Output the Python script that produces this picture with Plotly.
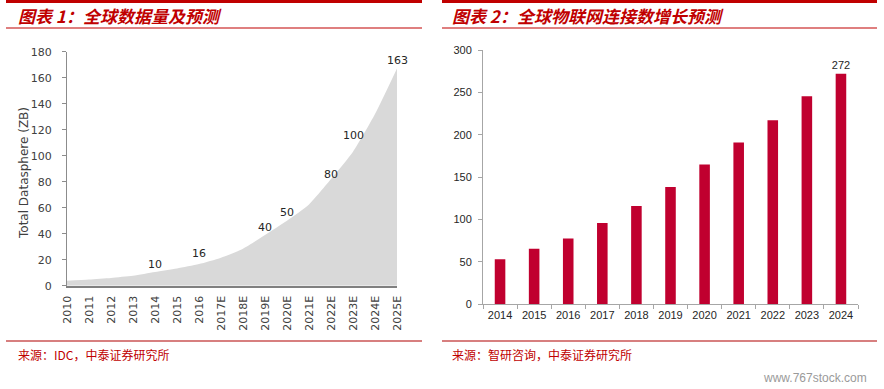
import plotly.graph_objects as go

W, H = 884, 389

# ---- Data: chart 1 (global datasphere, ZB) ----
years1 = ["2010", "2011", "2012", "2013", "2014", "2015", "2016", "2017E", "2018E",
          "2019E", "2020E", "2021E", "2022E", "2023E", "2024E", "2025E"]
datasphere = [3.8, 4.8, 6.0, 7.6, 10.5, 13.2, 16.6, 21.5, 28.5, 39.0, 50.0, 62.5, 82.0, 103.0, 132.0, 167.0]
label_years = ["2014", "2016", "2019E", "2020E", "2022E", "2023E", "2025E"]
label_values = [10, 16, 40, 50, 80, 100, 163]

# ---- Data: chart 2 (global IoT connections) ----
years2 = ["2014", "2015", "2016", "2017", "2018", "2019", "2020", "2021", "2022", "2023", "2024"]
iot = [53, 65.5, 77.5, 96, 116, 138.5, 165, 191, 217, 245.5, 272]

# ---- styles ----
label_yshift = [8, 11, 6, 8, 7.5, 20.5, 13]
RED = "#C00000"
BAR = "#C0002F"
TXT = "#404040"

def px_x(p):
    return p / W

def px_y(p):
    return 1 - p / H

fig = go.Figure()

# Chart 1 area
xi = list(range(len(years1)))
fig.add_trace(go.Scatter(
    x=xi, y=datasphere, mode="lines", fill="tozeroy",
    line=dict(width=0, shape="spline", smoothing=0.6, color="#D9D9D9"),
    fillcolor="#D9D9D9", xaxis="x", yaxis="y", hoverinfo="skip", showlegend=False,
))

# Chart 2 bars
fig.add_trace(go.Bar(
    x=years2, y=iot, marker=dict(color=BAR, line=dict(width=0)), width=0.31,
    text=[""] * (len(iot) - 1) + [f"{iot[-1]:g}"], textposition="outside",
    constraintext="none",
    textfont=dict(family="Liberation Sans, Arial", size=11, color="#262626"),
    cliponaxis=False, xaxis="x2", yaxis="y2", showlegend=False,
))

ann = []
for yr, v, sh in zip(label_years, label_values, label_yshift):
    ann.append(dict(
        x=years1.index(yr), y=v, xref="x", yref="y", text=str(v), showarrow=False,
        yanchor="middle", xanchor="center", yshift=sh,
        font=dict(family="DejaVu Sans, Verdana", size=11, color="#262626"),
    ))

# Y-axis title chart 1
ann.append(dict(
    x=px_x(24), y=px_y(173), xref="paper", yref="paper", text="Total Datasphere (ZB)",
    textangle=-90, showarrow=False, xanchor="center", yanchor="middle",
    font=dict(family="DejaVu Sans, Verdana", size=12, color=TXT),
))

# Titles
title_font = dict(family="Noto Sans CJK SC", size=17, color=RED, weight="bold", style="italic")
ann.append(dict(x=px_x(16), y=px_y(16), xref="paper", yref="paper", text="图表 1：全球数据量及预测",
                showarrow=False, xanchor="left", yanchor="middle", font=title_font))
ann.append(dict(x=px_x(450), y=px_y(16), xref="paper", yref="paper", text="图表 2：全球物联网连接数增长预测",
                showarrow=False, xanchor="left", yanchor="middle", font=title_font))

# Sources
src_font = dict(family="Noto Sans CJK SC", size=12, color=RED)
ann.append(dict(x=px_x(16), y=px_y(354), xref="paper", yref="paper", text="来源：IDC，中泰证券研究所",
                showarrow=False, xanchor="left", yanchor="middle", font=src_font))
ann.append(dict(x=px_x(450), y=px_y(354), xref="paper", yref="paper", text="来源：智研咨询，中泰证券研究所",
                showarrow=False, xanchor="left", yanchor="middle", font=src_font))

# Watermark
ann.append(dict(x=px_x(869), y=px_y(378), xref="paper", yref="paper", text="www.767stock.com",
                showarrow=False, xanchor="right", yanchor="middle",
                font=dict(family="Liberation Sans, Arial", size=12, color="#9A9A9A")))

shapes = []
for x0, x1 in [(6, 422), (442, 877)]:
    shapes.append(dict(type="rect", xref="paper", yref="paper", x0=px_x(x0), x1=px_x(x1),
                       y0=px_y(3), y1=px_y(0), fillcolor=RED, line=dict(width=0)))
    shapes.append(dict(type="line", xref="paper", yref="paper", x0=px_x(x0), x1=px_x(x1),
                       y0=px_y(28), y1=px_y(28), line=dict(color=RED, width=1.2)))
    shapes.append(dict(type="line", xref="paper", yref="paper", x0=px_x(x0), x1=px_x(x1),
                       y0=px_y(341), y1=px_y(341), line=dict(color="#B00000", width=1.2)))

fig.update_layout(
    width=W, height=H, margin=dict(l=0, r=0, t=0, b=0, autoexpand=False),
    paper_bgcolor="white", plot_bgcolor="white", showlegend=False,
    annotations=ann, shapes=shapes,
    xaxis=dict(domain=[px_x(67), px_x(397)], anchor="y", range=[0, 15], automargin=False,
               tickmode="array", tickvals=xi, ticktext=years1, tickangle=-90,
               showgrid=False, zeroline=False, showline=True, linecolor="#808080", linewidth=1.5,
               ticks="", ticklabelstandoff=4,
               tickfont=dict(family="DejaVu Sans, Verdana", size=11, color=TXT)),
    yaxis=dict(domain=[px_y(285.7), px_y(51.7)], anchor="x", range=[0, 180], dtick=20, automargin=False,
               showgrid=False, zeroline=False, showline=True, linecolor="#8C8C8C", linewidth=1,
               ticks="outside", ticklen=4, tickcolor="#8C8C8C", ticklabelstandoff=8,
               tickfont=dict(family="DejaVu Sans, Verdana", size=11, color=TXT)),
    xaxis2=dict(domain=[px_x(483), px_x(858)], anchor="y2", type="category", automargin=False,
                range=[-0.5, len(years2) - 0.5],
                showgrid=False, zeroline=False, showline=True, linecolor="#A6A6A6", linewidth=1,
                ticks="outside", tickson="boundaries", ticklen=4, tickcolor="#A6A6A6",
                tickfont=dict(family="Liberation Sans, Arial", size=11, color="#262626")),
    yaxis2=dict(domain=[px_y(304.3), px_y(50)], anchor="x2", range=[0, 300], dtick=50, automargin=False,
                showgrid=False, zeroline=False, showline=True, linecolor="#A6A6A6", linewidth=1,
                ticks="outside", ticklen=4, tickcolor="#A6A6A6", ticklabelstandoff=4,
                tickfont=dict(family="Liberation Sans, Arial", size=11, color="#262626")),
)

fig.write_html("out.html", config={"displayModeBar": False},
               post_script="document.body.style.margin='0px';document.body.style.overflow='hidden';")
